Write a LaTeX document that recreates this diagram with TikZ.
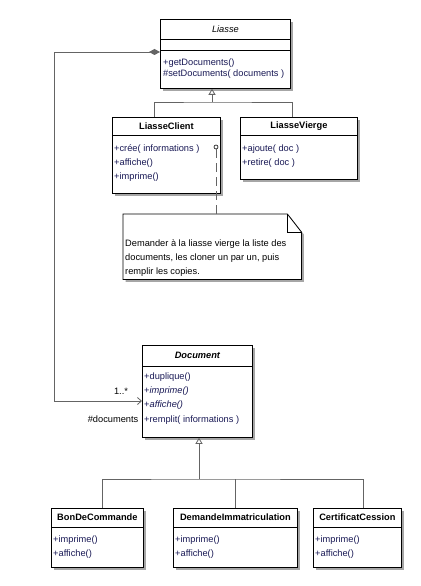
\documentclass[tikz,border=0pt]{standalone}
\usepackage{fontspec}
\setmainfont{Liberation Sans}
\usetikzlibrary{arrows.meta,shadows}

\definecolor{opblue}{RGB}{25,25,85}
\definecolor{linkgray}{RGB}{100,100,100}

\tikzset{
  cls/.style={draw, fill=white, line width=0.8bp, anchor=north west, inner sep=0,
    drop shadow={shadow xshift=2.5bp, shadow yshift=-2.5bp, fill=black!35, opacity=1}},
  ttl/.style={inner sep=0, font=\fontsize{9.3}{11}\selectfont\bfseries},
  ops/.style={anchor=north west, align=left, inner sep=0, text=opblue,
    font=\fontsize{9.3}{14}\selectfont},
  lbl/.style={inner sep=0, font=\fontsize{9.3}{11}\selectfont},
  link/.style={linkgray, line width=0.8bp},
  gen/.style={link, -{Triangle[open, length=6bp, width=7bp]}},
}

\begin{document}
\begin{tikzpicture}[x=1bp, y=-1bp]
\useasboundingbox (0,0) rectangle (420,586);

\node[cls, minimum width=130bp, minimum height=69bp] (liasse) at (160,19) {};
\draw[line width=0.8bp] ([yshift=-20bp]liasse.north west) -- ([yshift=-20bp]liasse.north east);
\draw[line width=0.8bp] ([yshift=-31bp]liasse.north west) -- ([yshift=-31bp]liasse.north east);
\node[ttl, font=\fontsize{9.3}{11}\selectfont\itshape] (liasseName) at ([yshift=-10bp]liasse.north) {Liasse};
\node[ops, font=\fontsize{9.3}{11}\selectfont] (liasseOps) at ([xshift=3bp, yshift=-39.4bp]liasse.north west)
  {+getDocuments()\\\#setDocuments( documents )};

\node[cls, minimum width=108bp, minimum height=76bp] (client) at (112,117) {};
\draw[line width=0.8bp] ([yshift=-18bp]client.north west) -- ([yshift=-18bp]client.north east);
\node[ttl] (clientName) at ([yshift=-9bp]client.north) {LiasseClient};
\node[ops] (clientOps) at ([xshift=2bp, yshift=-27.4bp]client.north west)
  {+crée( informations )\\+affiche()\\+imprime()};

\node[cls, minimum width=117bp, minimum height=62bp] (vierge) at (240,117) {};
\draw[line width=0.8bp] ([yshift=-18bp]vierge.north west) -- ([yshift=-18bp]vierge.north east);
\node[ttl] (viergeName) at ([yshift=-9bp]vierge.north) {LiasseVierge};
\node[ops] (viergeOps) at ([xshift=2bp, yshift=-27.4bp]vierge.north west)
  {+ajoute( doc )\\+retire( doc )};

\node[cls, minimum width=110bp, minimum height=92bp] (doc) at (142,345) {};
\draw[line width=0.8bp] ([yshift=-21bp]doc.north west) -- ([yshift=-21bp]doc.north east);
\node[ttl, font=\fontsize{9.3}{11}\selectfont\bfseries\itshape] (docName) at ([yshift=-10bp]doc.north) {Document};
\node[ops, font=\fontsize{9.3}{14.3}\selectfont] (docOps) at ([xshift=2bp, yshift=-27.4bp]doc.north west)
  {+duplique()\\+\textit{imprime()}\\+\textit{affiche()}\\+remplit( informations )};

\node[cls, minimum width=92bp, minimum height=59bp] (bon) at (51,508) {};
\draw[line width=0.8bp] ([yshift=-19bp]bon.north west) -- ([yshift=-19bp]bon.north east);
\node[ttl] (bonName) at ([yshift=-9.5bp]bon.north) {BonDeCommande};
\node[ops] (bonOps) at ([xshift=2bp, yshift=-27.4bp]bon.north west) {+imprime()\\+affiche()};

\node[cls, minimum width=124bp, minimum height=59bp] (demande) at (173,508) {};
\draw[line width=0.8bp] ([yshift=-19bp]demande.north west) -- ([yshift=-19bp]demande.north east);
\node[ttl] (demandeName) at ([yshift=-9.5bp]demande.north) {DemandeImmatriculation};
\node[ops] (demandeOps) at ([xshift=2bp, yshift=-27.4bp]demande.north west) {+imprime()\\+affiche()};

\node[cls, minimum width=88bp, minimum height=59bp] (certif) at (313,508) {};
\draw[line width=0.8bp] ([yshift=-19bp]certif.north west) -- ([yshift=-19bp]certif.north east);
\node[ttl] (certifName) at ([yshift=-9.5bp]certif.north) {CertificatCession};
\node[ops] (certifOps) at ([xshift=2bp, yshift=-27.4bp]certif.north west) {+imprime()\\+affiche()};

\node[anchor=north west, minimum width=178bp, minimum height=65bp, inner sep=0] (note) at (123,214) {};
\filldraw[fill=white, line width=0.8bp,
    drop shadow={shadow xshift=2.5bp, shadow yshift=-2.5bp, fill=black!35, opacity=1}]
  (note.north west) -- ([xshift=-14bp]note.north east) -- ([yshift=-18bp]note.north east)
  -- (note.south east) -- (note.south west) -- cycle;
\draw[line width=0.8bp] ([xshift=-14bp]note.north east) -- ([xshift=-14bp, yshift=-18bp]note.north east)
  -- ([yshift=-18bp]note.north east);
\node[ops, text=black] (noteText) at ([xshift=2bp, yshift=-25.4bp]note.north west)
  {Demander à la liasse vierge la liste des\\documents, les cloner un par un, puis\\remplir les copies.};

\node[circle, draw, line width=0.6bp, inner sep=0, minimum size=4bp] (hook) at (216,147) {};
\draw[link, dash pattern=on 9bp off 5bp] (hook) -- (note.north -| hook);

\coordinate (topBend) at (54,52);
\coordinate (lowBend) at (54,401);
\draw[link, {Diamond[fill=linkgray, length=11bp, width=6bp]}-{Straight Barb[length=4bp, width=7bp]}]
  (liasse.west |- topBend) -- (topBend) -- (lowBend) -- (doc.west |- lowBend);
\node[lbl] (mult) at (121,391) {1..*};
\node[lbl, anchor=east] (role) at (138.5,419) {\#documents};

\coordinate (busTop) at (212,102);
\draw[gen] (busTop) -- (liasse.south -| busTop);
\draw[link] (client.north -| 154,0) |- (busTop) -| (vierge.north -| 292,0);

\coordinate (busLow) at (199,479);
\draw[gen] (busLow) -- (doc.south -| busLow);
\draw[link] (bon.north -| 102,0) |- (busLow) -| (certif.north -| 363,0);
\draw[link] (demande.north) -- (demande.north |- busLow);
\end{tikzpicture}
\end{document}
